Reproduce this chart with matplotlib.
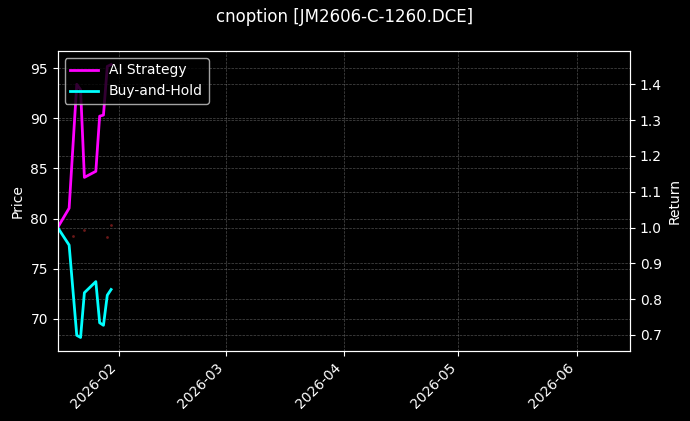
import matplotlib
matplotlib.use("Agg")
import matplotlib.pyplot as plt
import matplotlib.dates as mdates
import pandas as pd

# daily dates of the backtest
dates = pd.to_datetime([
    "2026-01-16", "2026-01-19", "2026-01-21", "2026-01-22", "2026-01-23",
    "2026-01-26", "2026-01-27", "2026-01-28", "2026-01-29", "2026-01-30",
])
ai_strategy = [1.000, 1.054, 1.400, 1.385, 1.140, 1.157, 1.311, 1.314, 1.450, 1.455]
buy_and_hold = [1.000, 0.951, 0.699, 0.693, 0.818, 0.849, 0.734, 0.727, 0.811, 0.827]

# faint trade markers on the price axis
signal_dates = pd.to_datetime(["2026-01-20", "2026-01-23", "2026-01-29", "2026-01-30"])
signal_prices = [78.23, 78.87, 78.15, 79.37]

price_limits = (66.8, 96.7)
date_limits = pd.to_datetime(["2026-01-16", "2026-06-15"])


def main():
    plt.style.use("dark_background")
    fig, ax1 = plt.subplots(figsize=(6.9, 4.21), dpi=100)
    fig.subplots_adjust(left=0.0836, right=0.913, top=0.879, bottom=0.166)

    # price axis (left)
    ax1.plot(signal_dates, signal_prices, linestyle="none", marker="o",
             markersize=2, color="#6a1818", markeredgewidth=0)
    ax1.set_ylim(*price_limits)
    ax1.set_ylabel("Price")
    ax1.grid(True, linestyle="--", linewidth=0.5, alpha=0.3)

    # return axis (right)
    ax2 = ax1.twinx()
    l1, = ax2.plot(dates, ai_strategy, color="#ff00ff", linewidth=2, label="AI Strategy")
    l2, = ax2.plot(dates, buy_and_hold, color="#00ffff", linewidth=2, label="Buy-and-Hold")
    ax2.set_ylabel("Return")
    ax2.grid(True, linestyle="--", linewidth=0.5, alpha=0.3)

    ax1.set_xlim(date_limits[0], date_limits[1])
    ax1.xaxis.set_major_locator(mdates.MonthLocator())
    ax1.xaxis.set_major_formatter(mdates.DateFormatter("%Y-%m"))
    plt.setp(ax1.get_xticklabels(), rotation=45, ha="right")

    ax2.legend(handles=[l1, l2], loc="upper left")
    fig.suptitle("cnoption [JM2606-C-1260.DCE]", fontsize=12)

    fig.savefig("out.png", dpi=100)


if __name__ == "__main__":
    main()
